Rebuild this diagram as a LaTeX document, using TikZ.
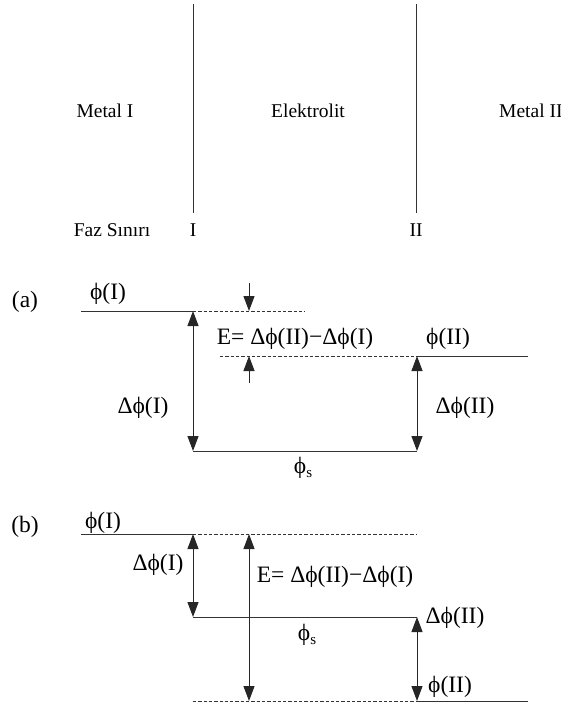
\documentclass[tikz,border=0pt]{standalone}
\usepackage{fontspec}
\setmainfont{Liberation Serif}
\usetikzlibrary{arrows.meta}
\begin{document}
\begin{tikzpicture}[x=1pt,y=-1pt,
  ln/.style={line width=1pt,black!80},
  dl/.style={line width=0.9pt,black!80,dash pattern=on 3.3pt off 2pt},
  ar/.style={line width=1pt,black!85,-{Triangle[length=15pt,width=11pt]}},
  dar/.style={line width=1pt,black!85,{Triangle[length=15pt,width=11pt]}-{Triangle[length=15pt,width=11pt]}},
  top/.style={font=\fontsize{19.5}{22}\selectfont,inner sep=0pt},
  lab/.style={font=\fontsize{23.5}{26}\selectfont,inner sep=0pt}]
\useasboundingbox (0,0) rectangle (560,706);
\newcommand{\phs}{ϕ\raisebox{-0.35ex}{\fontsize{15}{16}\selectfont s}}
% top part
\coordinate (t1) at (193,4); \coordinate (u1) at (193,213);
\coordinate (t2) at (416,4); \coordinate (u2) at (416,213);
\draw[ln] (t1) -- (u1);
\draw[ln] (t2) -- (u2);
\node[top] (m1) at (105,111) {Metal I};
\node[top] (el) at (308,111) {Elektrolit};
\node[top,anchor=west] (m2) at (499,111) {Metal II};
\node[top] (fs) at (112,230) {Faz Sınırı};
\node[top] (fI) at (193,230) {I};
\node[top] (fII) at (416,230) {II};
% (a)
\node[lab] (la) at (25,302) {(a)};
\node[lab] (aphi1) at (108,294) {ϕ(I)};
\coordinate (a1) at (81,311); \coordinate (a2) at (193,311); \coordinate (a3) at (305,311);
\coordinate (a4) at (249,283); \coordinate (a5) at (249,311);
\coordinate (a6) at (249,383); \coordinate (a7) at (249,356);
\coordinate (a8) at (220,356); \coordinate (a9) at (417,356); \coordinate (a10) at (528,356);
\coordinate (a11) at (193,451); \coordinate (a12) at (417,451);
\draw[ln] (a1) -- (a2);
\draw[dl] (a2) -- (a3);
\draw[ar] (a4) -- (a5);
\draw[ar] (a6) -- (a7);
\draw[dl] (a8) -- (a9);
\draw[ln] (a9) -- (a10);
\draw[dar] (a2) -- (a11);
\draw[ln] (a11) -- (a12);
\draw[dar] (a9) -- (a12);
\node[lab] (aE) at (295,339) {E= Δϕ(II)−Δϕ(I)};
\node[lab] (aphi2) at (448,339) {ϕ(II)};
\node[lab] (adp1) at (143,408) {Δϕ(I)};
\node[lab] (adp2) at (465,408) {Δϕ(II)};
\node[lab] (aphs) at (303,468) {\phs};
% (b)
\node[lab] (lb) at (25,527) {(b)};
\node[lab] (bphi1) at (103,523) {ϕ(I)};
\coordinate (b1) at (81,534); \coordinate (b2) at (193,534); \coordinate (b3) at (417,534);
\coordinate (b4) at (249,534); \coordinate (b5) at (249,701);
\coordinate (b6) at (193,617); \coordinate (b7) at (417,617);
\coordinate (b8) at (193,701); \coordinate (b9) at (417,701); \coordinate (b10) at (528,701);
\draw[ln] (b1) -- (b2);
\draw[dl] (b2) -- (b3);
\draw[dar] (b2) -- (b6);
\draw[dar] (b4) -- (b5);
\draw[ln] (b6) -- (b7);
\draw[dar] (b7) -- (b9);
\draw[dl] (b8) -- (b9);
\draw[ln] (b9) -- (b10);
\node[lab] (bdp1) at (158,565) {Δϕ(I)};
\node[lab] (bE) at (335,577) {E= Δϕ(II)−Δϕ(I)};
\node[lab] (bdp2) at (455,618) {Δϕ(II)};
\node[lab] (bphs) at (307,635) {\phs};
\node[lab] (bphi2) at (450,687) {ϕ(II)};
\end{tikzpicture}
\end{document}
